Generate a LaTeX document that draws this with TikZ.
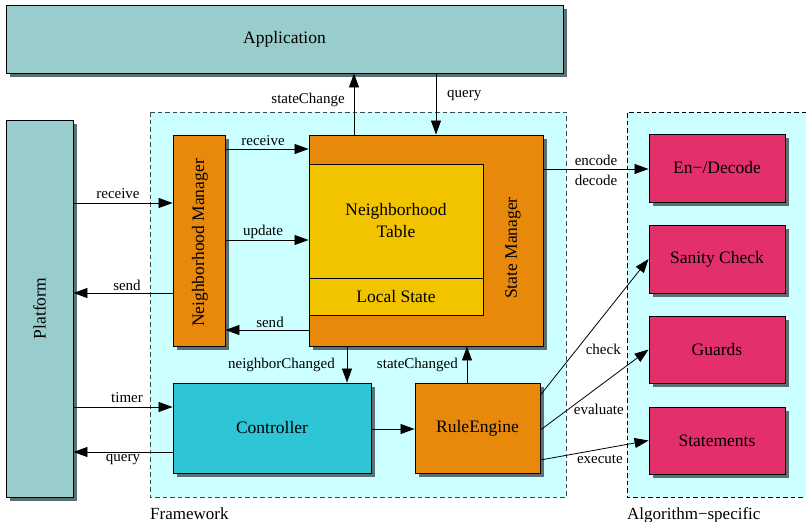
\documentclass[tikz,border=0pt]{standalone}
\usepackage{fontspec}
\setmainfont{Liberation Serif}
\usetikzlibrary{arrows.meta,shadows}

\definecolor{teal}{HTML}{99CCCC}
\definecolor{fwbg}{HTML}{CCFFFF}
\definecolor{orng}{HTML}{E8890C}
\definecolor{yell}{HTML}{F2C400}
\definecolor{cyanbox}{HTML}{2EC6D6}
\definecolor{pinkbox}{HTML}{E3306A}
\definecolor{shade}{HTML}{5B7070}
\definecolor{dashcol}{HTML}{404848}

\tikzset{
  bigfont/.style={font=\fontsize{17.5}{21}\selectfont},
  box/.style={draw=black, line width=0.9pt, rectangle, inner sep=0pt,
    bigfont, align=center},
  shbox/.style={box, drop shadow={shadow xshift=4pt, shadow yshift=-4pt,
    opacity=1, fill=shade}},
  arr/.style={line width=0.8pt, -{Triangle[length=14pt,width=10pt]}},
  lbl/.style={font=\fontsize{15}{17}\selectfont, inner sep=0pt},
  dashline/.style={draw=dashcol, line width=0.8pt, dash pattern=on 4.5pt off 3pt},
  caption/.style={font=\fontsize{17}{20}\selectfont, anchor=base west, inner sep=0pt}
}

\begin{document}
\begin{tikzpicture}[x=1pt,y=-1pt]
\useasboundingbox (0,0) rectangle (806,522);

% framework region and algorithm-specific region
\path[dashline, fill=fwbg] (150,112) rectangle (566,497);
\fill[fwbg] (627,112) rectangle (806,497);
\draw[dashline, draw=black] (806,112) -- (627,112) -- (627,497) -- (806,497);
\node[caption] (fwcap) at (150,519) {Framework};
\node[caption] (alcap) at (627,519) {Algorithm−specific};

% outer components
\node[shbox, fill=teal, minimum width=557pt, minimum height=68pt] (app) at (284.5,39) {Application};
\node[shbox, fill=teal, minimum width=67pt, minimum height=377pt] (plat) at (39.5,308.5) {\rotatebox{90}{Platform}};

% framework components
\node[shbox, fill=orng, minimum width=52pt, minimum height=211pt] (nm) at (199,240.5) {};
\node[bigfont, rotate=90, inner sep=0pt] (nmtext) at (200,243) {Neighborhood Manager};
\node[shbox, fill=orng, minimum width=234pt, minimum height=211pt] (sm) at (426,240.5) {};
\node[box, fill=yell, minimum width=174pt, minimum height=114pt] (nt) at (396,221) {Neighborhood\\[1pt]Table};
\node[box, fill=yell, minimum width=174pt, minimum height=37pt] (ls) at (396,296.5) {Local State};
\node[bigfont, rotate=90, inner sep=0pt] (smtext) at (513,248) {State Manager};
\node[shbox, fill=cyanbox, minimum width=198pt, minimum height=90pt] (ctrl) at (272,428) {Controller};
\node[shbox, fill=orng, minimum width=125pt, minimum height=90pt] (re) at (477.5,428) {RuleEngine};

% algorithm-specific components
\node[shbox, fill=pinkbox, minimum width=136pt, minimum height=68pt] (enc) at (717,168) {En−/Decode};
\node[shbox, fill=pinkbox, minimum width=136pt, minimum height=68pt] (san) at (717,259) {Sanity Check};
\node[shbox, fill=pinkbox, minimum width=136pt, minimum height=67pt] (grd) at (717,349.5) {Guards};
\node[shbox, fill=pinkbox, minimum width=136pt, minimum height=67pt] (stm) at (717,440.5) {Statements};

% application <-> state manager
\draw[arr] (sm.north -| 354,0) -- (app.south -| 354,0);
\node[lbl, anchor=east] at (345,100) {stateChange};
\draw[arr] (app.south -| 436,0) -- (sm.north -| 436,0);
\node[lbl, anchor=west] at (447,96) {query};

% platform <-> neighborhood manager
\draw[arr] (plat.east |- 0,203) -- (nm.west |- 0,203);
\node[lbl] at (118,194) {receive};
\draw[arr] (nm.west |- 0,293) -- (plat.east |- 0,293);
\node[lbl] at (127,285) {send};

% neighborhood manager <-> state manager
\draw[arr] (nm.east |- 0,149) -- (sm.west |- 0,149);
\node[lbl] at (263,141) {receive};
\draw[arr] (nm.east |- 0,240) -- (sm.west |- 0,240);
\node[lbl] at (263,232) {update};
\draw[arr] (sm.west |- 0,330) -- (nm.east |- 0,330);
\node[lbl] at (270,322) {send};

% state manager <-> controller / rule engine
\draw[arr] (sm.south -| 347,0) -- (ctrl.north -| 347,0);
\node[lbl, anchor=east] at (335,365) {neighborChanged};
\draw[arr] (re.north -| 467,0) -- (sm.south -| 467,0);
\node[lbl, anchor=east] at (458,365) {stateChanged};

% platform <-> controller
\draw[arr] (plat.east |- 0,407) -- (ctrl.west |- 0,407);
\node[lbl] at (127,398) {timer};
\draw[arr] (ctrl.west |- 0,452) -- (plat.east |- 0,452);
\node[lbl] at (123,460) {query};

% controller -> rule engine
\draw[arr] (ctrl.east |- 0,429) -- (re.west |- 0,429);

% framework -> algorithm-specific
\draw[arr] (sm.east |- 0,169) -- (enc.west |- 0,169);
\node[lbl] at (596,160) {encode};
\node[lbl] at (596,180) {decode};
\draw[arr] (re.east |- 0,395) -- (san.west);
\node[lbl, anchor=east] at (621,349) {check};
\draw[arr] (re.east |- 0,430) -- (grd.west);
\node[lbl, anchor=east] at (624,409) {evaluate};
\draw[arr] (re.east |- 0,460) -- (stm.west);
\node[lbl, anchor=east] at (623,459) {execute};
\end{tikzpicture}
\end{document}
